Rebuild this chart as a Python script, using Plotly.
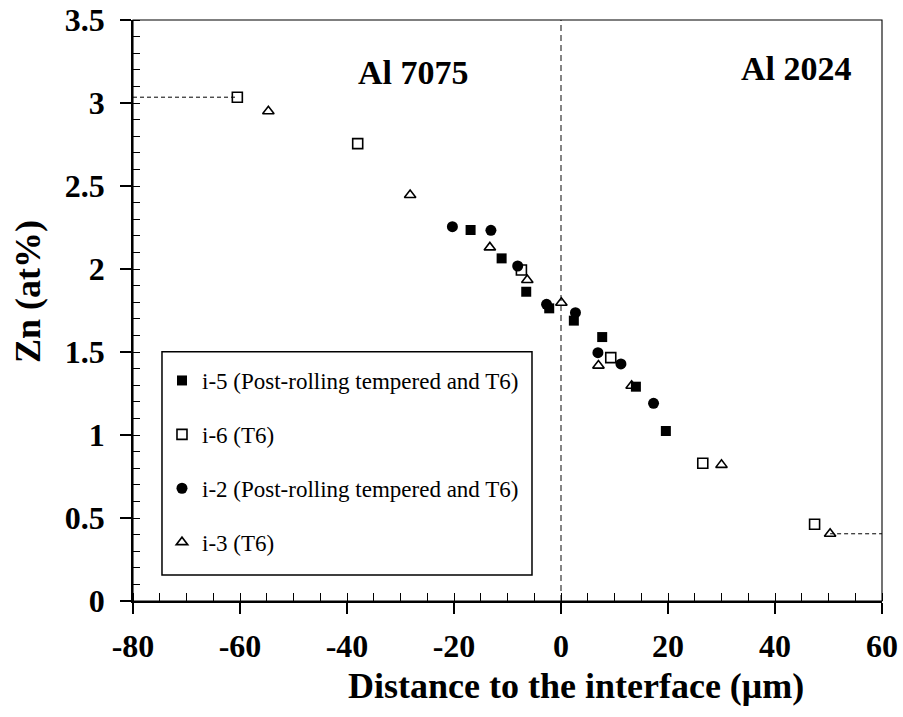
import plotly.graph_objects as go

# ---- data ----
i5_x = [-16.9, -11.1, -6.5, -2.2, 2.4, 7.7, 14.0, 19.6]
i5_y = [2.235, 2.064, 1.863, 1.763, 1.689, 1.59, 1.291, 1.024]

i6_x = [-60.5, -38.0, -7.4, 9.3, 26.5, 47.4]
i6_y = [3.035, 2.755, 1.994, 1.466, 0.83, 0.462]

i2_x = [-20.3, -13.1, -8.1, -2.7, 2.7, 6.9, 11.2, 17.3]
i2_y = [2.255, 2.233, 2.018, 1.787, 1.737, 1.496, 1.428, 1.191]

i3_x = [-54.7, -28.2, -13.3, -6.3, 0.07, 7.0, 13.2, 30.0, 50.3]
i3_y = [2.95, 2.446, 2.13, 1.934, 1.797, 1.418, 1.297, 0.82, 0.405]

names = ["i-5 (Post-rolling tempered and T6)", "i-6 (T6)",
         "i-2 (Post-rolling tempered and T6)", "i-3 (T6)"]
region_labels = ["Al 7075", "Al 2024"]
x_ticks = [-80, -60, -40, -20, 0, 20, 40, 60]
x_ticklabels = ["-80", "-60", "-40", "-20", "0", "20", "40", "60"]
y_ticks = [0, 0.5, 1, 1.5, 2, 2.5, 3, 3.5]
y_ticklabels = ["0", "0.5", "1", "1.5", "2", "2.5", "3", "3.5"]
x_range = [-80, 60]
y_range = [0, 3.5]

FONT = "Liberation Serif, Times New Roman, serif"

fig = go.Figure()
fig.add_trace(go.Scatter(x=i5_x, y=i5_y, mode="markers", name=names[0], legendgroup="a",
                         marker=dict(symbol="square", size=10, color="black")))
fig.add_trace(go.Scatter(x=i6_x, y=i6_y, mode="markers", name=names[1], legendgroup="b",
                         marker=dict(symbol="square-open", size=10, color="black",
                                     line=dict(width=1.6, color="black"))))
fig.add_trace(go.Scatter(x=i2_x, y=i2_y, mode="markers", name=names[2], legendgroup="c",
                         marker=dict(symbol="circle", size=11, color="black")))
fig.add_trace(go.Scatter(x=i3_x, y=i3_y, mode="markers", name=names[3], legendgroup="d",
                         marker=dict(symbol="triangle-up-open", size=10, color="black",
                                     line=dict(width=1.6, color="black"))))

# reference lines
fig.add_shape(type="line", x0=0, x1=0, y0=y_range[0], y1=y_range[1], xref="x", yref="y",
              line=dict(color="#444444", width=1.3, dash="6px,4px"), layer="below")
fig.add_shape(type="line", x0=x_range[0], x1=i6_x[0], y0=i6_y[0], y1=i6_y[0], xref="x", yref="y",
              line=dict(color="black", width=1, dash="4px,3px"), layer="below")
fig.add_shape(type="line", x0=i3_x[-1], x1=x_range[1], y0=i3_y[-1], y1=i3_y[-1], xref="x", yref="y",
              line=dict(color="black", width=1, dash="4px,3px"), layer="below")

# plot frame (thin top/right)
fig.add_shape(type="rect", xref="paper", yref="paper", x0=0, x1=1, y0=0, y1=1,
              line=dict(color="black", width=1.1), fillcolor="rgba(0,0,0,0)", layer="above")

# legend frame
fig.add_shape(type="rect", xref="paper", yref="paper",
              x0=0.0387, x1=0.5327, y0=0.0447, y1=0.4291,
              line=dict(color="black", width=1.5), fillcolor="white", layer="below")

fig.add_annotation(text="<b>%s</b>" % region_labels[0], xref="paper", yref="paper",
                   x=0.375, y=0.910, showarrow=False, xanchor="center", yanchor="middle",
                   font=dict(family=FONT, size=34, color="black"))
fig.add_annotation(text="<b>%s</b>" % region_labels[1], xref="paper", yref="paper",
                   x=0.886, y=0.916, showarrow=False, xanchor="center", yanchor="middle",
                   font=dict(family=FONT, size=34, color="black"))
fig.add_annotation(text="<b>Distance to the interface (μm)</b>", xref="paper", yref="paper",
                   x=0.591, y=-0.146, showarrow=False, xanchor="center", yanchor="middle",
                   font=dict(family=FONT, size=36, color="black"))
fig.add_annotation(text="<b>Zn (at%)</b>", xref="paper", yref="paper",
                   x=-0.140, y=0.532, showarrow=False, xanchor="center", yanchor="middle",
                   textangle=-90, borderpad=0, font=dict(family=FONT, size=36, color="black"))

tickfont = dict(family=FONT, size=32, color="black")

fig.update_layout(
    width=903, height=717,
    margin=dict(l=133, r=21, t=20, b=116, autoexpand=False),
    paper_bgcolor="white", plot_bgcolor="white",
    showlegend=True,
    legend=dict(x=0.0387, y=0.4165, xanchor="left", yanchor="top",
                bgcolor="rgba(0,0,0,0)", borderwidth=0,
                font=dict(family=FONT, size=23, color="black"),
                tracegroupgap=21, itemwidth=30),
    xaxis=dict(range=x_range, tickmode="array", tickvals=x_ticks,
               ticktext=["<b>%s</b>" % t for t in x_ticklabels],
               showgrid=False, zeroline=False, automargin=False, ticklabeloverflow="allow",
               showline=True, linecolor="black", linewidth=1.8, mirror=False,
               ticks="outside", ticklen=11, tickwidth=1.5, tickcolor="black",
               tickfont=tickfont, ticklabelstandoff=5,
               minor=dict(dtick=5, tick0=0, ticks="inside", ticklen=8, tickwidth=1.3,
                          tickcolor="black", showgrid=False)),
    yaxis=dict(range=y_range, tickmode="array", tickvals=y_ticks,
               ticktext=["<b>%s</b>" % t for t in y_ticklabels],
               showgrid=False, zeroline=False, automargin=False, ticklabeloverflow="allow",
               showline=True, linecolor="black", linewidth=1.8, mirror=False,
               ticks="outside", ticklen=11, tickwidth=1.5, tickcolor="black",
               tickfont=tickfont, ticklabelstandoff=9,
               minor=dict(dtick=0.1, tick0=0, ticks="inside", ticklen=7, tickwidth=1.3,
                          tickcolor="black", showgrid=False)),
    xaxis2=dict(range=x_range, tickmode="array", tickvals=x_ticks, overlaying="x",
                side="bottom", anchor="y", automargin=False,
                showgrid=False, zeroline=False, showline=False, showticklabels=False,
                ticks="inside", ticklen=11, tickwidth=1.5, tickcolor="black"),
    yaxis2=dict(range=y_range, tickmode="array", tickvals=y_ticks, overlaying="y",
                side="left", anchor="x", automargin=False,
                showgrid=False, zeroline=False, showline=False, showticklabels=False,
                ticks="inside", ticklen=7, tickwidth=1.5, tickcolor="black"),
)

fig.write_html("out.html", config={"displayModeBar": False},
               post_script="document.body.style.margin='0';"
                           "document.body.style.overflow='hidden';"
                           "window.scrollTo(0,0);")
